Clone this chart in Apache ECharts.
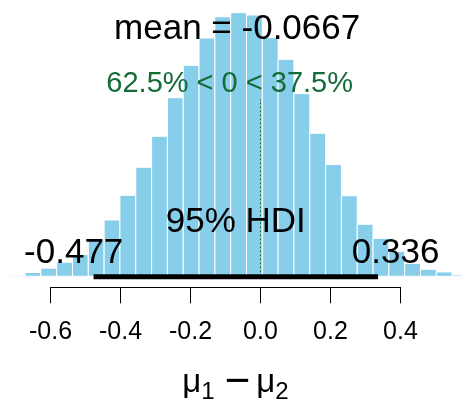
<!DOCTYPE html>
<html>
<head>
<meta charset="utf-8">
<script src="https://cdn.jsdelivr.net/npm/echarts@6/dist/echarts.min.js"></script>
<style>
  html, body { margin: 0; padding: 0; background: #fff; }
  #chart { width: 461px; height: 400px; }
</style>
</head>
<body>
<div id="chart"></div>
<script>
// Posterior sample of mu1 - mu2, summarised as a density histogram
const binStart = -0.718;
const binWidth = 0.0452;
const densities = [
  0.007, 0.028, 0.060, 0.104, 0.161, 0.277, 0.415, 0.597, 0.804, 1.033,
  1.317, 1.556, 1.757, 1.914, 1.944, 1.927, 1.760, 1.600, 1.347, 1.055,
  0.824, 0.594, 0.384, 0.280, 0.184, 0.094, 0.052, 0.032, 0.010
];

// Posterior summary
const meanValue = -0.0667;
const hdiLow = -0.477;
const hdiHigh = 0.336;
const compVal = 0;
const pctBelow = 62.5;
const pctAbove = 37.5;

// Visible axis ticks
const tickMin = -0.6;
const tickMax = 0.4;
const tickStep = 0.2;

const FONT = '"Liberation Sans", Arial, sans-serif';
const barColor = '#87CEEB';
const compColor = '#146b38';

const maxD = Math.max(...densities);
const bins = densities.map((d, i) => [binStart + i * binWidth, binStart + (i + 1) * binWidth, d]);

const measureCtx = document.createElement('canvas').getContext('2d');
function textWidth(t, fs) {
  measureCtx.font = fs + 'px ' + FONT;
  return measureCtx.measureText(t).width;
}

const chart = echarts.init(document.getElementById('chart'), null, { renderer: 'canvas' });

chart.setOption({
  animation: false,
  backgroundColor: '#fff',
  textStyle: { fontFamily: FONT },
  grid: [
    { left: 0, right: 0, top: 5.1, bottom: 123.7, outerBoundsMode: 'none', containLabel: false },
    { left: 50.5, right: 60.5, top: 0, bottom: 112.7, outerBoundsMode: 'none', containLabel: false }
  ],
  xAxis: [
    { type: 'value', gridIndex: 0, min: -0.7443, max: 0.5729, show: false },
    {
      type: 'value', gridIndex: 1, min: tickMin, max: tickMax, interval: tickStep,
      axisLine: { show: true, lineStyle: { color: '#000', width: 1 } },
      axisTick: { show: true, length: 16, lineStyle: { color: '#000', width: 1 } },
      splitLine: { show: false },
      axisLabel: {
        margin: 32, fontSize: 25, color: '#000', fontFamily: FONT,
        formatter: v => (Math.abs(v) < 1e-9 ? 0 : v).toFixed(1)
      },
      name: '{m|μ}{s|1}{op|−}{m|μ}{s|2}',
      nameLocation: 'middle',
      nameGap: 74,
      nameTextStyle: {
        color: '#000', fontFamily: FONT, padding: [0, 0, 0, 20],
        rich: {
          m: { fontSize: 33, fontFamily: FONT, color: '#000' },
          op: { fontSize: 44, fontFamily: FONT, color: '#000', padding: [0, 6, 0, 10] },
          s: { fontSize: 24, fontFamily: FONT, color: '#000', padding: [19, 0, 0, 0] }
        }
      }
    }
  ],
  yAxis: [
    { type: 'value', gridIndex: 0, min: 0, max: 2, show: false },
    { type: 'value', gridIndex: 1, min: 0, max: 1, show: false }
  ],
  series: [
    {
      type: 'custom',
      name: 'posterior',
      xAxisIndex: 0, yAxisIndex: 0,
      data: bins,
      encode: { x: [0, 1], y: 2 },
      renderItem(params, api) {
        const top = api.coord([api.value(0), api.value(2)]);
        const bottom = api.coord([api.value(1), 0]);
        return {
          type: 'rect',
          shape: { x: top[0], y: top[1], width: bottom[0] - top[0], height: bottom[1] - top[1] },
          style: { fill: barColor, stroke: '#fff', lineWidth: 1 }
        };
      }
    },
    {
      type: 'custom',
      name: 'summary',
      xAxisIndex: 0, yAxisIndex: 0,
      data: [[meanValue, 0]],
      silent: true,
      z: 5,
      renderItem(params, api) {
        const base = api.coord([0, 0])[1];
        const px = v => api.coord([v, 0])[0];
        const py = v => api.coord([0, v])[1];
        const children = [];

        // dotted reference line at the comparison value
        children.push({
          type: 'line',
          shape: { x1: px(compVal), y1: base, x2: px(compVal), y2: py(0.96 * 0.7 * maxD) },
          style: { stroke: compColor, lineWidth: 1, lineDash: [2, 2] }
        });

        // HDI bar
        children.push({
          type: 'line',
          shape: { x1: px(hdiLow), y1: base + 0.5, x2: px(hdiHigh), y2: base + 0.5 },
          style: { stroke: '#000', lineWidth: 5, lineCap: 'butt' }
        });

        // offset from text baseline to its vertical middle
        const mid = fs => 0.28 * fs;

        // mean label
        const meanText = 'mean = ' + meanValue;
        children.push({
          type: 'text',
          style: {
            text: meanText, x: px(meanValue), y: py(0.9 * maxD) - mid(35),
            fill: '#000', fontSize: 35, fontFamily: FONT, align: 'center', verticalAlign: 'middle'
          }
        });

        // comparison-value label
        const compText = pctBelow + '% < ' + compVal + ' < ' + pctAbove + '%';
        const compW = textWidth(compText, 29);
        children.push({
          type: 'text',
          style: {
            text: compText, x: px(compVal) - (pctBelow / 100) * compW, y: py(0.7 * maxD) - mid(29),
            fill: compColor, fontSize: 29, fontFamily: FONT, align: 'left', verticalAlign: 'middle'
          }
        });

        // HDI labels
        children.push({
          type: 'text',
          style: {
            text: '95% HDI', x: px((hdiLow + hdiHigh) / 2), y: base - 53.5,
            fill: '#000', fontSize: 35, fontFamily: FONT, align: 'center', verticalAlign: 'middle'
          }
        });
        const lowText = String(hdiLow);
        const highText = String(hdiHigh);
        children.push({
          type: 'text',
          style: {
            text: lowText, x: px(hdiLow) - 0.7 * textWidth(lowText, 35), y: base - 22.5,
            fill: '#000', fontSize: 35, fontFamily: FONT, align: 'left', verticalAlign: 'middle'
          }
        });
        children.push({
          type: 'text',
          style: {
            text: highText, x: px(hdiHigh) - 0.3 * textWidth(highText, 35), y: base - 22.5,
            fill: '#000', fontSize: 35, fontFamily: FONT, align: 'left', verticalAlign: 'middle'
          }
        });

        return { type: 'group', children };
      }
    }
  ]
});
</script>
</body>
</html>
